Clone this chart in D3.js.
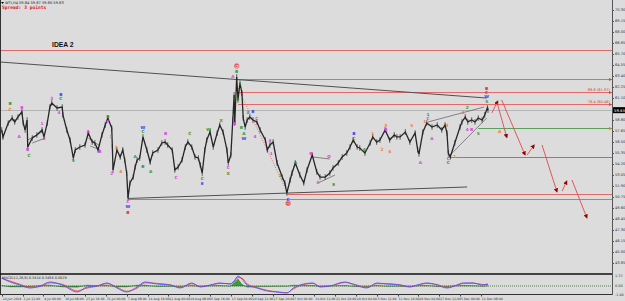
<!DOCTYPE html>
<html>
<head>
<meta charset="utf-8">
<script src="https://cdn.jsdelivr.net/npm/d3@7"></script>
<style>
  body { margin: 0; background: #dcdcdc; }
  svg { display: block; font-family: "DejaVu Sans", sans-serif; }
</style>
</head>
<body>
<div id="chart"></div>
<script>
// WTI H4 - price path: [bar index, price]
const pricePath = [
  [0,57.76],[2,57.03],[10,58.49],[16,59.01],[20,58.60],[25,59.12],[31,59.64],[33,58.49],[36,57.76],[39,58.80],
  [40,55.98],[47,56.92],[54,57.24],[62,57.76],[65,57.03],[70,58.49],[74,60.16],[77,60.58],[85,60.06],[93,60.16],
  [94,59.33],[100,57.76],[105,56.71],[110,54.83],[113,55.67],[120,55.98],[128,56.19],[133,57.44],[139,56.50],[143,56.40],
  [148,55.67],[154,57.24],[159,58.28],[163,59.01],[169,57.97],[170,55.98],[171,53.58],[177,55.67],[182,54.94],[186,55.67],
  [189,54.62],[192,53.26],[194,50.65],[197,52.22],[202,52.84],[205,53.89],[208,54.62],[212,54.83],[217,57.03],[223,55.67],
  [228,54.41],[232,55.35],[240,55.67],[246,56.40],[251,56.50],[255,56.19],[262,55.67],[266,53.58],[271,53.89],[277,54.62],
  [282,55.98],[286,56.50],[292,55.98],[297,54.94],[302,54.83],[305,54.10],[308,53.26],[312,55.67],[315,56.71],[320,57.55],
  [325,55.98],[331,57.44],[335,58.28],[340,57.55],[346,55.67],[348,54.31],[352,55.14],[355,58.80],[357,61.42],[358,58.49],
  [361,63.30],[363,60.90],[366,62.67],[369,61.63],[371,59.01],[374,58.07],[377,58.80],[381,59.12],[386,58.80],[392,58.60],
  [397,57.76],[405,56.71],[408,55.67],[412,56.19],[417,56.50],[423,54.31],[431,52.84],[435,52.22],[438,51.17],[443,52.53],
  [446,53.26],[451,54.31],[458,53.05],[464,52.22],[469,53.58],[477,55.14],[484,53.37],[489,52.84],[497,52.84],[504,53.26],
  [509,53.79],[517,54.31],[523,54.94],[530,55.35],[535,55.98],[540,56.71],[546,55.98],[550,55.88],[558,55.35],[566,56.40],
  [570,57.03],[576,56.50],[581,56.71],[589,57.76],[596,56.71],[603,57.24],[607,57.03],[612,57.03],[620,57.55],[627,56.50],
  [635,57.44],[639,55.67],[641,55.25],[647,57.55],[653,58.49],[661,58.07],[669,58.28],[676,57.76],[681,58.28],[684,57.44],
  [686,55.35],[689,54.94],[696,56.40],[704,58.07],[707,58.60],[712,59.12],[716,58.60],[722,58.80],[727,58.60],[732,59.01],
  [738,58.80],[742,59.33],[746,60.06],[747,59.83]
];
const lastPrice = 59.83;

const priceTicks = [70.30,69.15,68.00,66.85,65.70,64.55,63.40,62.25,61.10,59.95,58.80,57.65,56.50,55.35,
  54.20,53.05,51.90,50.75,49.60,48.45,47.30,46.15,45.00,43.85];

const timeLabels = ["24 Jun 2019","1 Jul 12:00","9 Jul 00:00","16 Jul 08:00","23 Jul 16:00","31 Jul 00:00",
  "7 Aug 08:00","14 Aug 16:00","22 Aug 00:00","29 Aug 08:00","5 Sep 16:00","13 Sep 04:00","20 Sep 12:00",
  "27 Sep 20:00","7 Oct 04:00","14 Oct 12:00","21 Oct 20:00","29 Oct 04:00","5 Nov 12:00","12 Nov 20:00",
  "20 Nov 04:00","27 Nov 12:00","5 Dec 00:00","12 Dec 08:00"];
const barsPerLabel = 32;

// horizontal levels: [price, first bar, colour key]
const levels = [
  [66.12, -5, "red"], [63.09, 363, "red"], [61.73, 363, "red"], [60.48, 363, "red"],
  [57.97, 732, "green"], [54.94, 686, "green"], [51.07, 438, "red"], [50.55, 194, "red"]
];
const fibLabels = [["88.6 (61.97)", 61.73], ["76.4 (60.46)", 60.48]];

// trend / channel lines: [bar1, price1, bar2, price2, style]
const trendLines = [
  [-3, 64.87, 745, 61.10, "dark"],
  [194, 50.60, 715, 51.80, "dark"],
  [655, 58.60, 741, 60.16, "grey"],
  [686, 54.94, 745, 59.01, "grey"],
  [40, 56.71, 62, 57.55, "grey"], [47, 56.40, 67, 56.92, "grey"],
  [133, 56.92, 151, 56.09, "grey"], [136, 56.09, 151, 55.67, "grey"],
  [477, 54.94, 504, 54.73, "grey"], [486, 52.22, 512, 53.05, "grey"],
  [363, 62.15, 437, 51.49, "dotted"]
];

// projected path arrows: [bar1, price1, bar2, price2]
const arrows = [
  [753, 59.54, 762, 60.79], [761, 60.58, 776, 56.97], [768, 60.90, 804, 55.14],
  [807, 55.14, 818, 56.19], [830, 56.19, 853, 51.28], [861, 51.38, 868, 52.43],
  [876, 52.53, 899, 48.56]
];

// wave labels: [bar, price, text, degree]
const waveLabels = [
  [13,60.48,"B","g"],[13,59.85,"C","o"],[31,60.16,"B","m"],[27,57.13,"A","m"],[40,55.67,"B","m"],[42,55.14,"C","g"],
  [62,58.39,"1","m"],[65,56.82,"2","m"],[77,61.00,"3","m"],[91,61.52,"B","b"],[91,61.05,"C","g"],[88,59.54,"4","m"],
  [110,54.52,"5","g"],[133,57.65,"A","m"],[151,55.46,"B","m"],[163,59.22,"B","g"],[163,58.60,"C","m"],[168,57.03,"1","m"],
  [169,53.16,"2","m"],[176,55.98,"3","o"],[183,53.47,"4","o"],[194,50.23,"C","m"],[194,49.71,"W","b"],[194,49.18,"B","r"],
  [205,54.94,"A","g"],[217,58.07,"W","b"],[217,57.55,"C","g"],[217,53.89,"B","g"],[229,53.47,"A","g"],[252,57.44,"B","m"],
  [268,52.84,"C","m"],[289,57.44,"C","g"],[308,52.64,"C","g"],[308,52.12,"E","b"],[318,57.86,"W","g"],[337,58.80,"X","g"],
  [348,53.79,"C","m"],[348,53.26,"X","g"],[355,63.30,"A","m"],[361,64.45,"C","r"],[361,63.90,"B","g"],[358,58.39,"B","m"],
  [366,62.57,"1","g"],[363,60.90,"2","g"],[368,57.97,"B","g"],[378,59.54,"3","g"],[386,59.64,"B","b"],[392,58.91,"C","m"],
  [372,57.34,"A","g"],[372,56.82,"W","b"],[389,57.13,"4","m"],[412,56.71,"4","m"],[414,55.25,"1","m"],[428,53.05,"3","g"],
  [440,50.54,"C","b"],[440,50.10,"D","r"],[451,54.31,"A","g"],[475,55.25,"B","m"],[486,52.22,"C","m"],[503,54.94,"D","m"],
  [510,52.01,"E","g"],[541,57.34,"B","b"],[541,56.92,"C","g"],[557,55.67,"A","g"],[570,57.44,"1","o"],[584,55.77,"2","o"],
  [590,58.28,"3","o"],[590,57.76,"B","m"],[596,55.46,"4","o"],[630,58.28,"5","o"],[643,54.31,"A","m"],[650,58.60,"1","o"],
  [655,59.43,"1","g"],[655,59.01,"C","m"],[661,56.82,"A","m"],[684,58.18,"3","o"],[686,54.73,"C","m"],[686,54.31,"C","g"],
  [696,54.94,"1","o"],[709,59.54,"3","o"],[715,60.16,"2","g"],[715,57.86,"4","m"],[722,57.86,"B","m"],[732,57.44,"5","g"],
  [745,62.05,"B","r"],[745,61.63,"C","r"],[745,61.21,"W","b"],[745,60.69,"5","g"],[765,57.65,"A","o"]
];

// oscillator sub-window
const oscBar = [0,13,28,43,59,74,93,116,131,146,162,177,192,208,220,239,259,274,292,305,320,335,351,357,363,369,
  377,392,408,423,438,448,458,478,489,504,527,543,561,576,592,612,627,638,653,669,684,699,709,724,739,747];
const oscMain = [1.38,0.69,0.17,-0.34,0,0.69,0.17,-1.03,-0.17,0,0.52,-0.34,-1.03,-0.17,0.69,0.34,0.17,-0.34,0.52,-0.17,
  0.17,0.52,0.34,0.86,1.72,1.20,0.17,-0.34,-0.86,-1.03,-1.20,-0.34,0.17,0.52,-0.17,0,0.69,0.17,-0.34,0.52,
  0.34,0.17,-0.17,0.17,0.52,0.17,-0.34,0.17,0.52,0.52,0.17,0.34];
const oscSignal = [1.30,0.85,0.30,-0.20,-0.10,0.55,0.30,-0.85,-0.35,-0.05,0.40,-0.20,-0.90,-0.35,0.55,0.45,0.20,-0.25,0.40,-0.05,
  0.10,0.45,0.40,0.70,1.45,1.35,0.35,-0.25,-0.75,-1.00,-1.15,-0.50,0.05,0.45,-0.05,0.00,0.60,0.25,-0.25,0.40,
  0.40,0.20,-0.10,0.10,0.45,0.25,-0.25,0.10,0.45,0.50,0.25,0.30];
const oscHist = [0.10,-0.15,-0.15,-0.15,0.10,0.15,-0.15,-0.20,0.15,0.05,0.10,-0.15,-0.15,0.15,0.15,-0.10,-0.05,-0.10,0.10,-0.10,
  0.05,0.10,-0.05,0.50,1.20,0.30,-0.20,-0.10,-0.10,-0.05,-0.05,0.15,0.10,0.10,-0.10,0.00,0.10,-0.10,-0.10,0.10,
  -0.05,-0.05,-0.10,0.05,0.10,-0.10,-0.10,0.10,0.10,0.05,-0.05,0.05];
const oscTicks = [1.72, 0.00, -1.44];

const W = 625, H = 301;
const plotRight = 612, mainBottom = 273, oscTop = 275, oscBottom = 294;

const degreeColor = { m: "#e040e0", g: "#2f9a2f", o: "#f07a3a", b: "#3a3aff", r: "#e02a2a" };
const levelColor = { red: "#e46a6a", green: "#5aa05a" };

const x = d3.scaleLinear().domain([0, 960]).range([1.7, 1.7 + 960 * 0.651]);
const y = d3.scaleLinear().domain([71.35, 43.12]).range([0, 270]);
const yo = d3.scaleLinear().domain([1.72, -1.44]).range([276, 294.4]);

const svg = d3.select("#chart").append("svg")
  .attr("width", W).attr("height", H);

svg.append("rect").attr("width", W).attr("height", H).attr("fill", "#dcdcdc");

const defs = svg.append("defs");
defs.append("clipPath").attr("id", "clipMain")
  .append("rect").attr("x", 0).attr("y", 0).attr("width", plotRight).attr("height", mainBottom);
defs.append("clipPath").attr("id", "clipOsc")
  .append("rect").attr("x", 0).attr("y", oscTop).attr("width", plotRight).attr("height", oscBottom - oscTop);
defs.append("marker").attr("id", "head")
  .attr("viewBox", "0 0 10 10").attr("refX", 8).attr("refY", 5)
  .attr("markerWidth", 5).attr("markerHeight", 5).attr("orient", "auto")
  .append("path").attr("d", "M0,0L10,5L0,10z").attr("fill", "#9a0000");

const main = svg.append("g").attr("clip-path", "url(#clipMain)");

// levels
main.selectAll(".level").data(levels).enter().append("line")
  .attr("x1", d => Math.max(0, x(d[1]))).attr("x2", plotRight)
  .attr("y1", d => Math.round(y(d[0])) + 0.5).attr("y2", d => Math.round(y(d[0])) + 0.5)
  .attr("stroke", d => levelColor[d[2]]).attr("stroke-width", 1);

// current price line
main.append("line")
  .attr("x1", 0).attr("x2", plotRight)
  .attr("y1", Math.round(y(lastPrice)) + 0.5).attr("y2", Math.round(y(lastPrice)) + 0.5)
  .attr("stroke", "#b4b4b4");

// fib labels
main.selectAll(".fib").data(fibLabels).enter().append("text")
  .attr("x", plotRight - 2).attr("y", d => y(d[1]) - 1)
  .attr("text-anchor", "end").attr("font-size", 3.6).attr("fill", "#e04040")
  .text(d => d[0]);

// trend lines
main.selectAll(".trend").data(trendLines).enter().append("line")
  .attr("x1", d => x(d[0])).attr("y1", d => y(d[1]))
  .attr("x2", d => x(d[2])).attr("y2", d => y(d[3]))
  .attr("stroke", d => d[4] === "dark" ? "#505050" : d[4] === "dotted" ? "#e05050" : "#6a6a6a")
  .attr("stroke-width", d => d[4] === "dark" ? 1 : 0.8)
  .attr("stroke-dasharray", d => d[4] === "dotted" ? "1,1.5" : null);

// price bars + path
const line = d3.line().x(d => x(d[0])).y(d => y(d[1]));
main.selectAll(".wick").data(pricePath).enter().append("line")
  .attr("x1", d => x(d[0])).attr("x2", d => x(d[0]))
  .attr("y1", d => y(d[1]) - 2.8).attr("y2", d => y(d[1]) + 2.8)
  .attr("stroke", "#3a3a3a").attr("stroke-width", 0.8);
main.append("path").datum(pricePath)
  .attr("d", line).attr("fill", "none")
  .attr("stroke", "#262626").attr("stroke-width", 1.3).attr("stroke-linejoin", "miter");

// projection arrows
main.selectAll(".arrow").data(arrows).enter().append("line")
  .attr("x1", d => x(d[0])).attr("y1", d => y(d[1]))
  .attr("x2", d => x(d[2])).attr("y2", d => y(d[3]))
  .attr("stroke", "#e04848").attr("stroke-width", 0.9)
  .attr("marker-end", "url(#head)");

// wave labels
const circled = waveLabels.filter(d => d[3] === "r" && (d[2] === "C" || d[2] === "D") && d[0] < 700);
main.selectAll(".ring").data(circled).enter().append("circle")
  .attr("cx", d => x(d[0])).attr("cy", d => y(d[1]))
  .attr("r", 2.3).attr("fill", "none").attr("stroke", "#e02a2a").attr("stroke-width", 0.6);
main.selectAll(".wave").data(waveLabels).enter().append("text")
  .attr("x", d => x(d[0])).attr("y", d => y(d[1]) + 1.5)
  .attr("text-anchor", "middle").attr("font-size", 4.3).attr("font-weight", 600)
  .attr("fill", d => degreeColor[d[3]])
  .text(d => d[2]);

// title texts
svg.append("path").attr("d", "M1,2L4,2L2.5,4z").attr("fill", "#000");
svg.append("text").attr("x", 5).attr("y", 4.2).attr("font-size", 3.6).attr("fill", "#222")
  .text("WTI,H4  59.84 59.87 59.80 59.83");
svg.append("text").attr("x", 2).attr("y", 9).attr("font-size", 4.6).attr("font-weight", "bold")
  .attr("font-family", "DejaVu Sans Mono, monospace").attr("fill", "#e02020")
  .text("Spread: 3 points");
svg.append("text").attr("x", 52).attr("y", 46.5).attr("font-size", 6.8).attr("font-weight", "bold")
  .attr("font-family", "Liberation Sans, Arial, sans-serif").attr("fill", "#111")
  .text("IDEA 2");

// oscillator
const osc = svg.append("g").attr("clip-path", "url(#clipOsc)");
const oscData = oscBar.map((b, i) => ({ b, m: oscMain[i], s: oscSignal[i], h: oscHist[i] }));
osc.append("path").datum(oscData)
  .attr("d", d3.area().x(d => x(d.b)).y0(yo(0)).y1(d => yo(d.h)))
  .attr("fill", "#3c9a3c").attr("stroke", "#2a7a2a").attr("stroke-width", 0.4);
osc.append("line").attr("x1", 0).attr("x2", plotRight)
  .attr("y1", yo(0)).attr("y2", yo(0))
  .attr("stroke", "#2a6a2a").attr("stroke-width", 0.8).attr("stroke-dasharray", "1,1");
osc.append("path").datum(oscData)
  .attr("d", d3.line().curve(d3.curveMonotoneX).x(d => x(d.b)).y(d => yo(d.s)))
  .attr("fill", "none").attr("stroke", "#ff4040").attr("stroke-width", 0.9);
osc.append("path").datum(oscData)
  .attr("d", d3.line().curve(d3.curveMonotoneX).x(d => x(d.b)).y(d => yo(d.m)))
  .attr("fill", "none").attr("stroke", "#5050ff").attr("stroke-width", 0.9);
svg.append("text").attr("x", 2).attr("y", 278.5).attr("font-size", 3.4).attr("fill", "#222")
  .text("MACD(12,26,9) 0.3414 0.3458 0.0029");

// frame
svg.append("line").attr("x1", 0.5).attr("x2", 0.5).attr("y1", 0).attr("y2", oscBottom).attr("stroke", "#333");
svg.append("line").attr("x1", plotRight + 0.5).attr("x2", plotRight + 0.5).attr("y1", 0).attr("y2", oscBottom + 1).attr("stroke", "#555");
svg.append("line").attr("x1", 0).attr("x2", plotRight).attr("y1", 274).attr("y2", 274).attr("stroke", "#111").attr("stroke-width", 1.6);
svg.append("line").attr("x1", 0).attr("x2", plotRight).attr("y1", oscBottom + 0.5).attr("y2", oscBottom + 0.5).attr("stroke", "#333");

// price axis
const yAxis = svg.append("g");
yAxis.selectAll(".pt").data(priceTicks).enter().append("line")
  .attr("x1", plotRight).attr("x2", plotRight + 2)
  .attr("y1", d => Math.round(y(d)) + 0.5).attr("y2", d => Math.round(y(d)) + 0.5)
  .attr("stroke", "#555");
yAxis.selectAll(".pl").data(priceTicks).enter().append("text")
  .attr("x", plotRight + 3).attr("y", d => y(d) + 1.3)
  .attr("font-size", 3.6).attr("fill", "#333")
  .text(d => d.toFixed(2));
yAxis.append("rect").attr("x", plotRight + 1).attr("y", y(lastPrice) - 3).attr("width", 12).attr("height", 6).attr("fill", "#000");
yAxis.append("text").attr("x", plotRight + 2).attr("y", y(lastPrice) + 1.4)
  .attr("font-size", 3.8).attr("fill", "#fff").text(lastPrice.toFixed(2));
yAxis.selectAll(".ot").data(oscTicks).enter().append("text")
  .attr("x", plotRight + 3).attr("y", d => yo(d) + 1.3)
  .attr("font-size", 3.4).attr("fill", "#333")
  .text(d => d.toFixed(2));

// level price flags on the axis
yAxis.selectAll(".flag").data(levels.filter(d => d[1] > 300 && d[1] < 740 && d[0] > 57)).enter().append("path")
  .attr("d", d => { const yy = Math.round(y(d[0])) + 0.5; return `M${plotRight - 3},${yy - 1.5}L${plotRight},${yy}L${plotRight - 3},${yy + 1.5}z`; })
  .attr("fill", d => d[2] === "green" ? "#e07a20" : "#e04040");

// time axis
const tAxis = svg.append("g");
tAxis.selectAll(".tt").data(timeLabels).enter().append("line")
  .attr("x1", (d, i) => Math.round(x(i * barsPerLabel)) + 0.5).attr("x2", (d, i) => Math.round(x(i * barsPerLabel)) + 0.5)
  .attr("y1", oscBottom).attr("y2", oscBottom + 2.5).attr("stroke", "#444");
tAxis.selectAll(".tl").data(timeLabels).enter().append("text")
  .attr("x", (d, i) => x(i * barsPerLabel) + 1).attr("y", 299.5)
  .attr("font-size", 3.1).attr("fill", "#333")
  .text(d => d);
</script>
</body>
</html>
